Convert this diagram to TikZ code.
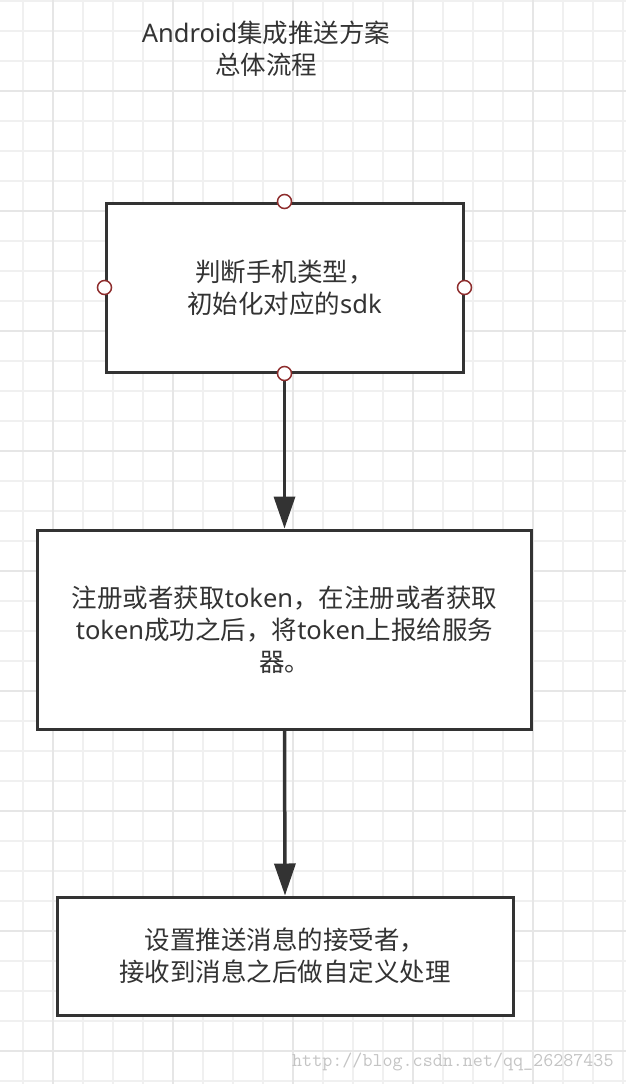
\documentclass[tikz,border=0pt]{standalone}
\usepackage{fontspec}
\setmainfont{Noto Sans CJK SC}
\newfontfamily\latfont{Noto Sans}
\newcommand\latxt[1]{{\latfont #1}}
\usetikzlibrary{arrows.meta}
\definecolor{ink}{HTML}{333333}
\definecolor{portred}{HTML}{8E2E2E}
\definecolor{gridminor}{HTML}{F0F0F0}
\definecolor{gridmajor}{HTML}{E6E6E6}
\definecolor{wmark}{HTML}{C4C4C4}
\tikzset{
  stepbox/.style={draw=ink, line width=3pt, fill=white, rectangle, inner sep=0pt,
    text=ink, align=center, font=\fontsize{25.5}{32}\selectfont},
  flowarrow/.style={draw=ink, line width=3.5pt, -{Triangle[length=32pt,width=21pt]}},
  portdot/.style={circle, draw=portred, fill=white, line width=1.5pt, minimum size=14pt, inner sep=0pt},
  titletext/.style={text=ink, align=center, font=\fontsize{25.5}{32}\selectfont},
  minorline/.style={draw=gridminor, line width=1.6pt},
  majorline/.style={draw=gridmajor, line width=2pt},
}
\begin{document}
\begin{tikzpicture}[x=1pt,y=-1pt]
\useasboundingbox (0,0) rectangle (626,1084);
\fill[white] (0,0) rectangle (626,1084);
% grid
\foreach \gx in {23,53,...,623} {\draw[minorline] (\gx,0) -- (\gx,1084);}
\foreach \gy in {1,31,...,1081} {\draw[minorline] (0,\gy) -- (626,\gy);}
\foreach \gx in {53,173,...,533} {\draw[majorline] (\gx,0) -- (\gx,1084);}
\foreach \gy in {91,211,...,1051} {\draw[majorline] (0,\gy) -- (626,\gy);}
% title
\node[titletext] (title) at (266,49) {\latxt{Android}集成推送方案\\总体流程};
% boxes
\node[stepbox, minimum width=357pt, minimum height=169pt] (b1) at (284.5,287.5)
  {判断手机类型，\\初始化对应的\latxt{sdk}};
\node[stepbox, minimum width=494pt, minimum height=199pt] (b2) at (284.5,629.5)
  {注册或者获取\latxt{token}，在注册或者获取\\\latxt{token}成功之后，将\latxt{token}上报给服务\\器。};
\node[stepbox, minimum width=456pt, minimum height=118pt] (b3) at (285,956)
  {设置推送消息的接受者，\\接收到消息之后做自定义处理};
% arrows
\draw[flowarrow] (b1.south) -- (b2.north);
\draw[flowarrow] (b2.south) -- (b3.north);
% ports
\node[portdot] (pn) at (b1.north) {};
\node[portdot] (ps) at (b1.south) {};
\node[portdot] (pw) at (b1.west) {};
\node[portdot] (pe) at (b1.east) {};
% watermark
\node[anchor=west, inner sep=0pt, text=wmark, font=\fontsize{19.5}{20}\ttfamily] (wm) at (292,1062) {http://blog.csdn.net/qq\_26287435};
\end{tikzpicture}
\end{document}
